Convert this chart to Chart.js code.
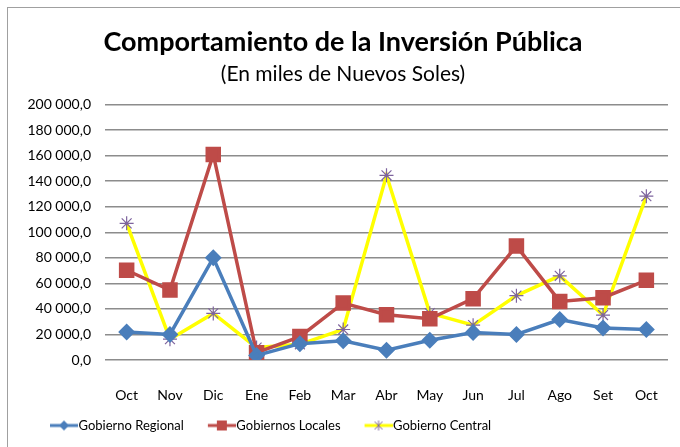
<!DOCTYPE html>
<html><head><meta charset="utf-8">
<script src="https://cdn.jsdelivr.net/npm/chart.js@4.4.1/dist/chart.umd.min.js"></script>
<style>html,body{margin:0;padding:0;background:#fff}#wrap{width:680px;height:447px;position:relative}</style>
</head><body><div id="wrap"><canvas id="c" width="680" height="447"></canvas></div>
<script>
const months = ["Oct","Nov","Dic","Ene","Feb","Mar","Abr","May","Jun","Jul","Ago","Set","Oct"];
const regional = [22000,20000,80000,3500,12800,15000,7600,15500,21500,20000,31700,25000,23900];
const locales = [70300,54800,161000,5700,18300,44600,35400,32300,48000,89200,45900,48800,62400];
const central = [107000,16300,36500,9700,12300,23900,144600,36700,27300,50400,65900,35200,128300];
const yTicks = [0,20000,40000,60000,80000,100000,120000,140000,160000,180000,200000];

const FONT = "Lato,'Liberation Sans',sans-serif";
const BLUE = "#4A7EBB", RED = "#BE4B48", YEL = "#FFFF00", PURP = "#7E649E";

function fmt(v){
  const s = Math.round(v).toString().replace(/\B(?=(\d{3})+(?!\d))/g, " ");
  return s + ",0";
}

const LEAD = 20, ICW = 28;
const CW = LEAD + ICW;
function legendIcon(kind){
  const c = document.createElement('canvas');
  c.width = CW; c.height = 14;
  const g = c.getContext('2d');
  const col = kind==='r'?BLUE:kind==='l'?RED:YEL;
  const x0 = LEAD, cx = LEAD + ICW/2;
  g.strokeStyle = col; g.lineWidth = 3;
  g.beginPath(); g.moveTo(x0,7); g.lineTo(x0+ICW,7); g.stroke();
  if(kind==='r'){
    g.fillStyle = BLUE; g.beginPath(); g.moveTo(cx,2); g.lineTo(cx+5,7); g.lineTo(cx,12); g.lineTo(cx-5,7); g.closePath(); g.fill();
  } else if(kind==='l'){
    g.fillStyle = RED; g.fillRect(cx-5,2,10,10);
  } else {
    g.strokeStyle = PURP; g.lineWidth = 1;
    g.beginPath(); g.moveTo(cx-4,3); g.lineTo(cx+4,11); g.moveTo(cx+4,3); g.lineTo(cx-4,11); g.moveTo(cx,2); g.lineTo(cx,12); g.stroke();
  }
  return c;
}
const icons = [legendIcon('r'), legendIcon('l'), legendIcon('c')];

const framePlugin = {
  id:'frame',
  beforeDraw(chart){
    const g = chart.ctx; g.save();
    g.strokeStyle = "#A0A0A0"; g.lineWidth = 1;
    g.strokeRect(7.5,7.5,680,460);
    g.restore();
  },
  afterLayout(chart){
    if(chart.legend){ chart.legend.left += 16; chart.legend.right += 16; }
  }
};

new Chart(document.getElementById('c'), {
  type:'line',
  data:{
    labels: months,
    datasets:[
      {label:"Gobierno Regional", data: regional, borderColor: BLUE, backgroundColor: BLUE, borderWidth:3.5,
        pointStyle:'rectRot', pointRadius:6, pointBackgroundColor: BLUE, pointBorderColor: BLUE, tension:0},
      {label:"Gobiernos Locales", data: locales, borderColor: RED, backgroundColor: RED, borderWidth:3.5,
        pointStyle:'rect', pointRadius:8.5, pointBackgroundColor: RED, pointBorderColor: RED, tension:0},
      {label:"Gobierno Central", data: central, borderColor: YEL, backgroundColor: YEL, borderWidth:3.5,
        pointStyle:'star', pointRadius:7, pointBackgroundColor: YEL, pointBorderColor: PURP, pointBorderWidth:1.2, tension:0}
    ]
  },
  options:{
    responsive:false, animation:false,
    layout:{padding:{left:10,right:4,top:0,bottom:5}},
    plugins:{
      title:{display:true, text:"Comportamiento de la Inversión Pública", color:"#000",
        font:{family:FONT, size:27, weight:'bold'}, padding:{top:26,bottom:3}},
      subtitle:{display:true, text:"(En miles de Nuevos Soles)", color:"#000",
        font:{family:FONT, size:21}, padding:{top:0,bottom:18}},
      legend:{position:'bottom', align:'start', labels:{usePointStyle:true, pointStyleWidth: CW-12, color:"#000", font:{family:FONT,size:13},
        padding:10,
        generateLabels(chart){
          return chart.data.datasets.map((d,i)=>({text:d.label, pointStyle:icons[i], datasetIndex:i, hidden:false, lineWidth:0, strokeStyle:'transparent', fillStyle:'transparent', fontColor:'#000'}));
        }}},
      tooltip:{enabled:false}
    },
    scales:{
      x:{offset:true, grid:{display:false}, border:{display:false},
        afterFit(s){ s.height = 49; },
        ticks:{color:"#000", font:{family:FONT,size:14}, padding:19}},
      y:{min:0,max:200000, afterBuildTicks(s){ s.ticks = yTicks.map(v=>({value:v})); },
        afterFit(s){ s.width = 95; },
        grid:{color:"#8C8C8C", lineWidth:1.5, drawTicks:false}, border:{display:false},
        ticks:{color:"#000", font:{family:FONT,size:14}, padding:14, callback:(v)=>fmt(v)}}
    }
  },
  plugins:[framePlugin]
});
</script></body></html>
